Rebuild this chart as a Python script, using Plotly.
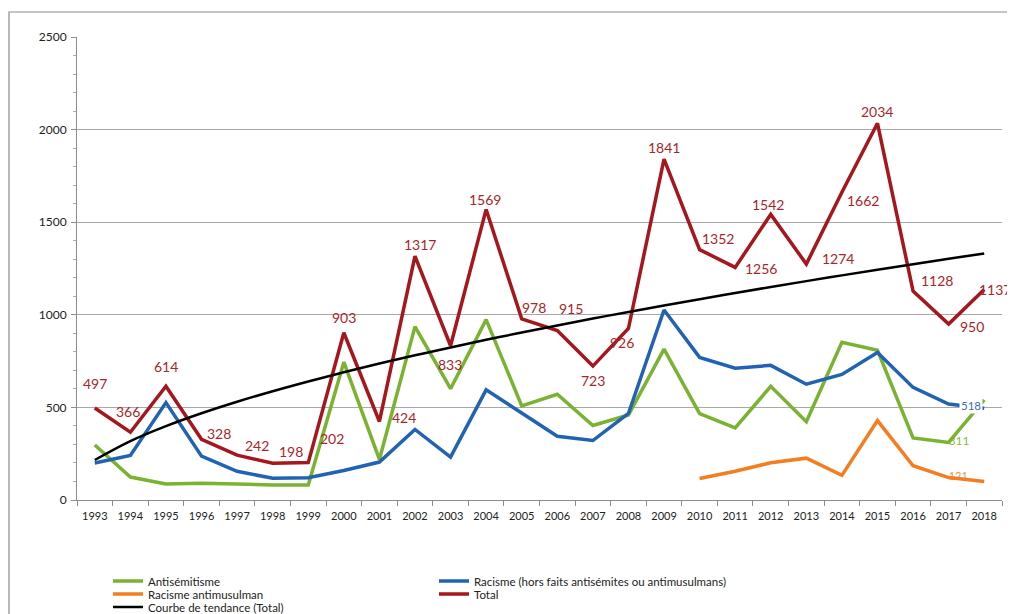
import numpy as np
import plotly.graph_objects as go

years = list(range(1993, 2019))
total = [497, 366, 614, 328, 242, 198, 202, 903, 424, 1317, 833, 1569, 978,
         915, 723, 926, 1841, 1352, 1256, 1542, 1274, 1662, 2034, 1128, 950, 1137]
antisemitisme = [297, 124, 86, 90, 86, 81, 81, 744, 219, 936, 601, 974, 508,
                 571, 402, 459, 815, 466, 389, 614, 423, 851, 808, 335, 311, 541]
racisme = [200, 240, 526, 237, 155, 117, 120, 159, 205, 381, 232, 595, 470,
           344, 321, 467, 1026, 770, 712, 727, 625, 678, 797, 608, 518, 496]
antimusulman = [None] * 17 + [116, 155, 201, 226, 133, 429, 185, 121, 100]
tick_labels = [str(y) for y in years]

# label offsets for Total values (pixels, style only)
label_dx = [0, -2, 0, 17, 20, 18, 24, 0, 25, 5, -1, -1, 12, 14, 0, -6, 0, 18, 26, -3, 32, 21, 0, 24, 23, 11]
label_dy = [-24, -21, -20, -6, -10, -12, -24, -15, -4, -12, 19, -10, -11, -22, 14, 14, -12, -11, 1, -10, -6, 8, -12, -11, 2, 0]

# power trend line (Excel-style "Courbe de tendance") fitted on Total
idx = np.arange(1, len(years) + 1)
b, ln_a = np.polyfit(np.log(idx), np.log(total), 1)
trend = np.exp(ln_a) * idx ** b

GREEN = "#7AB232"
BLUE = "#2163B2"
ORANGE = "#F47D20"
RED = "#A6161D"
BLACK = "#000000"
FONT = "Lato"

fig = go.Figure()

# labels drawn under their lines
fig.add_trace(go.Scatter(x=[years[24]], y=[antisemitisme[24]], mode="text",
                         text=[str(antisemitisme[24])], textposition="middle right",
                         textfont=dict(family=FONT, size=12, color="#8DBA4E"),
                         showlegend=False, hoverinfo="skip"))
fig.add_trace(go.Scatter(x=[years[24]], y=[antimusulman[24]], mode="text",
                         text=[str(antimusulman[24])], textposition="middle right",
                         textfont=dict(family=FONT, size=11, color="#E99050"),
                         showlegend=False, hoverinfo="skip"))

fig.add_trace(go.Scatter(x=years, y=antisemitisme, mode="lines", name="Antisémitisme",
                         line=dict(color=GREEN, width=3.5), legend="legend"))
fig.add_trace(go.Scatter(x=years, y=racisme, mode="lines",
                         name="Racisme (hors faits antisémites ou antimusulmans)",
                         line=dict(color=BLUE, width=3.5), legend="legend"))
fig.add_trace(go.Scatter(x=years, y=antimusulman, mode="lines", name="Racisme antimusulman",
                         line=dict(color=ORANGE, width=3.5), legend="legend2"))
fig.add_trace(go.Scatter(x=years, y=total, mode="lines", name="Total",
                         line=dict(color=RED, width=3.5), legend="legend2"))
fig.add_trace(go.Scatter(x=years, y=trend, mode="lines", name="Courbe de tendance (Total)",
                         line=dict(color=BLACK, width=2.5, shape="spline"), legend="legend3"))

annotations = []
for i, (xv, v) in enumerate(zip(years, total)):
    annotations.append(dict(x=xv, y=v, xref="x", yref="y", text=str(v), showarrow=False,
                            xshift=label_dx[i], yshift=-label_dy[i],
                            font=dict(family=FONT, size=14, color="#A8262B")))
annotations.append(dict(x=years[24], y=racisme[24], xref="x", yref="y", text=str(racisme[24]),
                        showarrow=False, xshift=22, yshift=-1, bgcolor="white",
                        font=dict(family=FONT, size=11.5, color="#3C6EB8")))

legend_common = dict(orientation="h", xanchor="left", yanchor="middle",
                     xref="container", yref="container",
                     bgcolor="rgba(0,0,0,0)", itemwidth=30, entrywidth=281,
                     font=dict(family=FONT, size=11.5, color="#222222"),
                     itemclick=False, itemdoubleclick=False)

# page body adds an 8px offset; positions below are in figure pixels
fig.update_layout(
    width=1015, height=614,
    margin=dict(l=69, r=21, t=29, b=122),
    paper_bgcolor="white", plot_bgcolor="white",
    showlegend=True,
    legend=dict(x=100 / 1015, y=1 - 573 / 614, **legend_common),
    legend2=dict(x=100 / 1015, y=1 - 586 / 614, **legend_common),
    legend3=dict(x=100 / 1015, y=1 - 599 / 614, **legend_common),
    annotations=annotations,
    shapes=[dict(type="rect", xref="paper", yref="paper",
                 x0=(9 - 77) / 925, x1=1.1, y0=-0.6, y1=(500 - 12) / 463,
                 line=dict(color="#8C8C8C", width=1.2), layer="below")],
    xaxis=dict(range=[years[0] - 0.5, years[-1] + 0.5],
               tickmode="array", tickvals=years, ticktext=tick_labels,
               ticks="", showline=True, linecolor="#8C8C8C", linewidth=1,
               showgrid=False, zeroline=False,
               minor=dict(tick0=years[0] - 0.5, dtick=1, ticks="outside", ticklen=5,
                          tickcolor="#8C8C8C", showgrid=False),
               tickfont=dict(family=FONT, size=11, color="#222222"),
               ticklabelstandoff=6),
    yaxis=dict(range=[0, 2500], dtick=500, tick0=0,
               ticks="outside", ticklen=5, tickcolor="#8C8C8C",
               showline=True, linecolor="#8C8C8C", linewidth=1,
               showgrid=True, gridcolor="#A8A8A8", gridwidth=1, zeroline=False,
               minor=dict(dtick=100, ticks="outside", ticklen=3, tickcolor="#AAAAAA", showgrid=False),
               tickfont=dict(family=FONT, size=12, color="#222222"),
               ticklabelstandoff=2),
)

fig.write_html("out.html")
